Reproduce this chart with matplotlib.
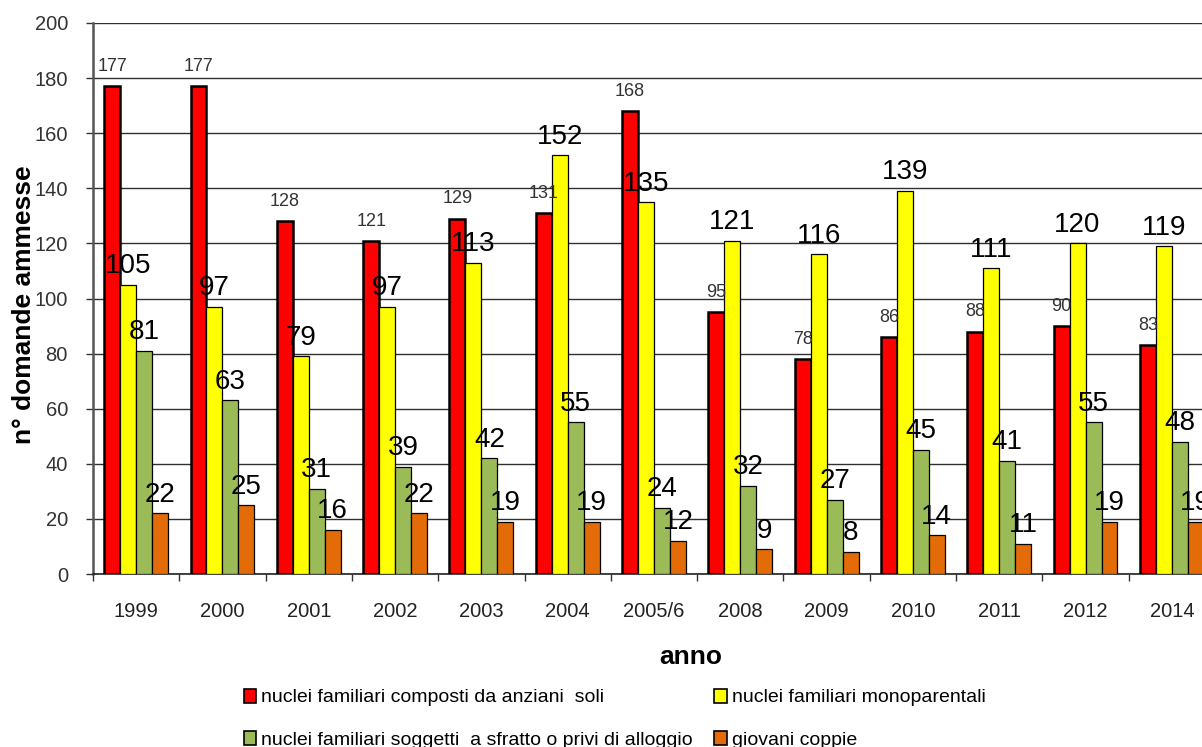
import numpy as np
import matplotlib
matplotlib.use("Agg")
import matplotlib.pyplot as plt
from matplotlib.patches import Patch

anni = ["1999", "2000", "2001", "2002", "2003", "2004", "2005/6",
        "2008", "2009", "2010", "2011", "2012", "2014"]
anziani = [177, 177, 128, 121, 129, 131, 168, 95, 78, 86, 88, 90, 83]
monoparentali = [105, 97, 79, 97, 113, 152, 135, 121, 116, 139, 111, 120, 119]
sfratto = [81, 63, 31, 39, 42, 55, 24, 32, 27, 45, 41, 55, 48]
giovani = [22, 25, 16, 22, 19, 19, 12, 9, 8, 14, 11, 19, 19]

etichette = ["nuclei familiari composti da anziani  soli",
             "nuclei familiari monoparentali",
             "nuclei familiari soggetti  a sfratto o privi di alloggio",
             "giovani coppie"]
colori = ["#FF0000", "#FFFF00", "#9BBB59", "#E36C09"]

plt.rcParams['font.family'] = ['Liberation Sans', 'DejaVu Sans']

def main():
    W, H = 1202, 747
    fig = plt.figure(figsize=(W / 100, H / 100), dpi=100)
    # axes runs past the right edge, like the cropped original
    left, right, top, bottom = 93, 1215, 23, 574
    ax = fig.add_axes([left / W, (H - bottom) / H, (right - left) / W, (bottom - top) / H])

    x = np.arange(len(anni))
    bw = 0.185
    serie = [anziani, monoparentali, sfratto, giovani]
    for i, (vals, col) in enumerate(zip(serie, colori)):
        pos = x + (i - 1.5) * bw
        lw = 1.8 if i == 0 else 0.9
        ax.bar(pos, vals, bw, color=col, edgecolor="black", linewidth=lw, zorder=3)
        for px, v in zip(pos, vals):
            if i == 0:
                ax.annotate(str(v), (px, v), xytext=(0, 8), textcoords="offset points",
                            ha="center", va="bottom", fontsize=13, color="#333333", zorder=4)
            else:
                ax.annotate(str(v), (px, v), xytext=(0, 4), textcoords="offset points",
                            ha="center", va="bottom", fontsize=20, color="black", zorder=4)

    ax.set_xlim(-0.5, len(anni) - 0.5)
    ax.set_ylim(0, 200)
    ax.set_yticks(np.arange(0, 201, 20))
    ax.yaxis.grid(True, color="#303030", linewidth=1.0, zorder=0)
    ax.set_xticks(x)
    ax.set_xticklabels(anni)
    ax.set_xticks(np.arange(-0.5, len(anni), 1), minor=True)
    ax.tick_params(axis="x", which="major", length=0, pad=20, labelsize=14.5, labelcolor="#222222")
    ax.tick_params(axis="x", which="minor", length=5, width=1, color="#333333")
    ax.tick_params(axis="y", length=5, width=1, color="#333333", pad=13,
                   labelsize=14.5, labelcolor="#333333")

    for s in ["top", "right"]:
        ax.spines[s].set_visible(False)
    ax.spines["left"].set_color("#555555")
    ax.spines["left"].set_linewidth(1.8)
    ax.spines["bottom"].set_color("#222222")
    ax.spines["bottom"].set_linewidth(1.2)

    fig.text(24 / W, 1 - 305 / H, "n° domande ammesse", rotation=90, ha="center", va="center",
             fontsize=19, fontweight="bold")
    fig.text(691 / W, 1 - 657 / H, "anno", ha="center", va="center",
             fontsize=19, fontweight="bold")

    handles = [Patch(facecolor=c, edgecolor="black", linewidth=1.2) for c in colori]
    order = [0, 2, 1, 3]
    fig.legend([handles[k] for k in order], [etichette[k] for k in order],
               ncol=2, loc="upper left", bbox_to_anchor=(226 / W, 1 - 671 / H),
               frameon=False, handlelength=0.65, handleheight=0.75,
               handletextpad=0.25, labelspacing=1.25, columnspacing=1.1,
               prop={"family": ["Liberation Sans", "DejaVu Sans"], "size": 14})

    fig.savefig("out.png", dpi=100)

if __name__ == '__main__':
    main()
